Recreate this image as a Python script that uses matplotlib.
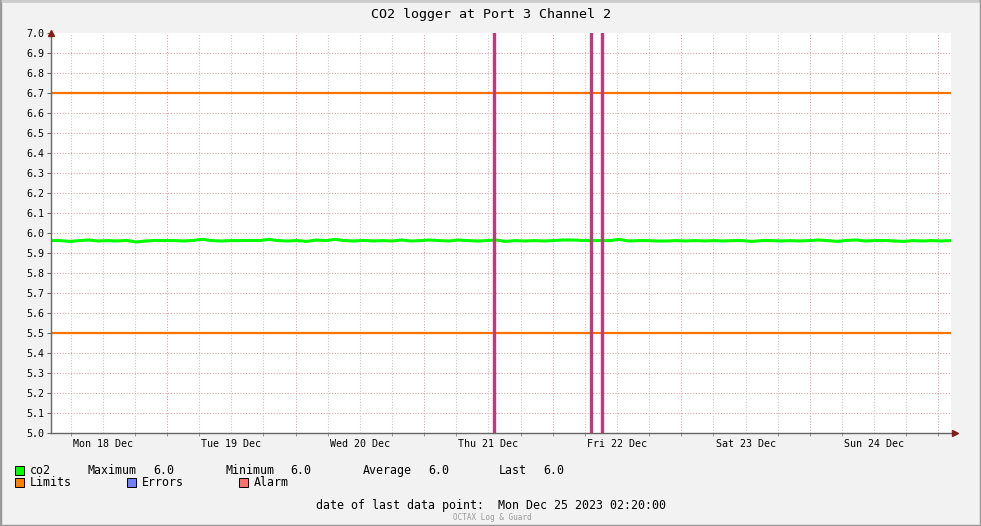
#!/usr/bin/env python3

from datetime import datetime, timedelta

import matplotlib

matplotlib.use("Agg")
import matplotlib.dates as mdates
import matplotlib.pyplot as plt
import pandas as pd
from matplotlib.patches import Rectangle

TITLE = "CO2 logger at Port 3 Channel 2"
START = datetime(2023, 12, 18, 2, 20)
END = datetime(2023, 12, 25, 2, 20)

# co2 readings, roughly every 10 px across the week
co2_values = [
    5.962, 5.962, 5.958, 5.962, 5.965, 5.960, 5.962, 5.960, 5.963, 5.955,
    5.960, 5.963, 5.962, 5.962, 5.960, 5.963, 5.968, 5.962, 5.960, 5.962,
    5.962, 5.963, 5.962, 5.968, 5.962, 5.960, 5.962, 5.958, 5.965, 5.962,
    5.968, 5.962, 5.960, 5.963, 5.960, 5.962, 5.960, 5.965, 5.960, 5.962,
    5.965, 5.962, 5.960, 5.965, 5.962, 5.960, 5.962, 5.965, 5.958, 5.962,
    5.960, 5.962, 5.960, 5.962, 5.965, 5.965, 5.963, 5.962, 5.962, 5.962,
    5.968, 5.960, 5.962, 5.962, 5.960, 5.960, 5.962, 5.960, 5.962, 5.960,
    5.962, 5.960, 5.962, 5.962, 5.958, 5.962, 5.962, 5.960, 5.962, 5.960,
    5.962, 5.965, 5.962, 5.958, 5.963, 5.965, 5.960, 5.962, 5.963, 5.960,
    5.958, 5.962, 5.960, 5.962, 5.960, 5.962,
]
limit_values = [6.7, 5.5]
alarm_times = ["2023-12-21 13:01", "2023-12-22 07:08", "2023-12-22 09:11"]
day_labels = ["Mon 18 Dec", "Tue 19 Dec", "Wed 20 Dec", "Thu 21 Dec",
              "Fri 22 Dec", "Sat 23 Dec", "Sun 24 Dec"]
stat_names = ["Maximum", "Minimum", "Average", "Last"]
stat_values = [6.0, 6.0, 6.0, 6.0]
last_point = "Mon Dec 25 2023 02:20:00"

W, H = 981, 526
MONO = "DejaVu Sans Mono"
plt.rcParams["font.family"] = MONO


def fx(px):
    return px / W


def fy(py):
    return 1 - py / H


fig = plt.figure(figsize=(W / 100, H / 100), dpi=100, facecolor="#f2f2f2")

# frame around the canvas
fig.patches.append(Rectangle((0, 0), 1, 1, transform=fig.transFigure, fill=False,
                             edgecolor="#9a9a9a", linewidth=2.5))
fig.patches.append(Rectangle((fx(1), fy(1)), fx(W - 2) - fx(1), 0, transform=fig.transFigure,
                             fill=False, edgecolor="#cfcfcf", linewidth=2))

ax = fig.add_axes([fx(51), fy(433), fx(900), 400 / H])
ax.set_facecolor("white")

# grid
for k in range(1, 20):
    ax.axhline(5.0 + k * 0.1, color="#d9a6a6", linewidth=0.8, linestyle=(0, (1, 1.5)), zorder=1)
t = datetime(2023, 12, 18, 6, 0)
while t < END:
    if t.hour == 0:
        ax.axvline(t, color="#d9a6a6", linewidth=0.8, linestyle=(0, (1, 1.5)), zorder=1)
    else:
        ax.axvline(t, color="#c8c8c8", linewidth=0.8, linestyle=(0, (1, 1.5)), zorder=1)
    t += timedelta(hours=6)

times = pd.date_range(START, END, periods=len(co2_values))
ax.plot(times, co2_values, color="#00ff00", linewidth=2.2, zorder=3)
for v in limit_values:
    ax.axhline(v, color="#ff7200", linewidth=1.6, zorder=2)
for a in alarm_times:
    ax.axvline(pd.Timestamp(a), color="#c0397a", linewidth=2.4, zorder=4)

ax.set_xlim(START, END)
ax.set_ylim(5.0, 7.0)
ax.set_yticks([5.0 + k * 0.1 for k in range(21)])
ax.yaxis.set_major_formatter(matplotlib.ticker.FormatStrFormatter("%.1f"))
ax.tick_params(axis="y", length=3, width=0.8, color="#666666", labelsize=7.2, pad=2,
               labelcolor="black")

noon = [datetime(2023, 12, 18, 12) + timedelta(days=i) for i in range(len(day_labels))]
ax.set_xticks(noon)
ax.set_xticklabels(day_labels)
ax.tick_params(axis="x", length=0, labelsize=7.2, pad=4, labelcolor="black")
ax.xaxis.set_minor_locator(mdates.HourLocator(byhour=[0, 6, 12, 18]))
ax.tick_params(axis="x", which="minor", length=2, color="#888888", direction="out")

for side in ["top", "right"]:
    ax.spines[side].set_visible(False)
for side in ["left", "bottom"]:
    ax.spines[side].set_color("#666666")
    ax.spines[side].set_linewidth(1.0)
    ax.spines[side].set_zorder(5)
ax.spines["bottom"].set_bounds(mdates.date2num(START),
                               mdates.date2num(END + timedelta(hours=0.7)))

# axis arrows
ax.plot([0], [1.0], marker="^", markersize=5, color="#8b1a1a", transform=ax.transAxes,
        clip_on=False, zorder=6)
ax.plot([1.005], [0], marker=">", markersize=5, color="#8b1a1a", transform=ax.transAxes,
        clip_on=False, zorder=6)

fig.text(fx(491), fy(18), TITLE, ha="center", va="baseline", fontsize=9.6)

# legend
sw = 9
legend_rows = [
    [(15, "#00ff00", "co2")],
    [(15, "#ff7f00", "Limits"), (127, "#7080ff", "Errors"), (239, "#ff7070", "Alarm")],
]
row_base = [474, 486]
for row, yb in zip(legend_rows, row_base):
    for x0, color, label in row:
        fig.patches.append(Rectangle((fx(x0), fy(yb + 1)), sw / W, sw / H,
                                     transform=fig.transFigure, facecolor=color,
                                     edgecolor="black", linewidth=0.7))
        fig.text(fx(x0 + 15), fy(yb), label, ha="left", va="baseline", fontsize=8.4)

name_x = [88, 225, 363, 499]
value_x = [153, 290, 428, 543]
for name, val, nx, vx in zip(stat_names, stat_values, name_x, value_x):
    fig.text(fx(nx), fy(474), name, ha="left", va="baseline", fontsize=8.4)
    fig.text(fx(vx), fy(474), f"{val:.1f}", ha="left", va="baseline", fontsize=8.4)

fig.text(fx(491), fy(509), f"date of last data point:  {last_point}", ha="center",
         va="baseline", fontsize=8.4)
fig.text(fx(492), fy(520), "OCTAX Log & Guard", ha="center", va="baseline", fontsize=5.5,
         color="#999999")

fig.savefig("out.png", dpi=100, facecolor=fig.get_facecolor())
